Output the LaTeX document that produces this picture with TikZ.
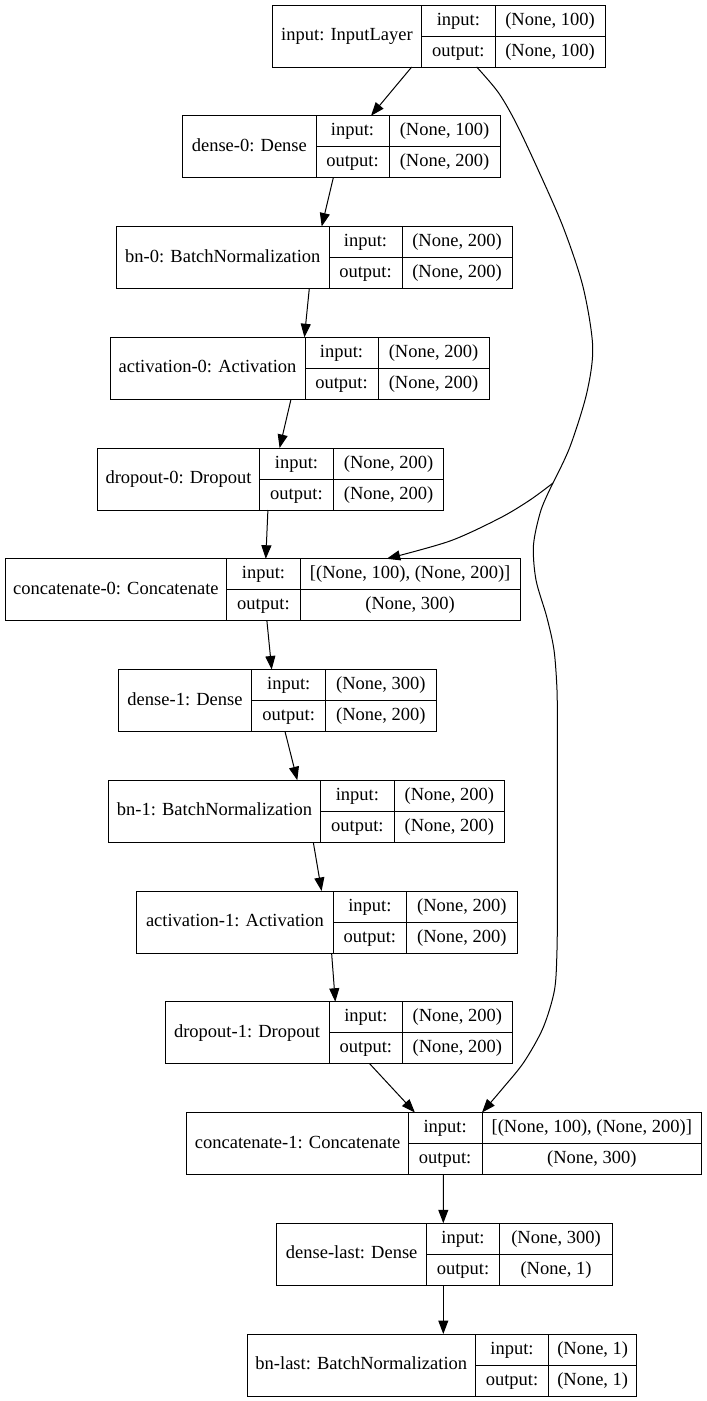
\documentclass[tikz,border=0pt]{standalone}
\usepackage{fontspec}
\setmainfont{Liberation Serif}
\usetikzlibrary{arrows.meta}

\tikzset{
  box/.style={draw, line width=1pt, inner sep=0pt, outer sep=0pt,
    minimum height=62pt, anchor=north west},
  rule/.style={line width=1pt},
  cell/.style={inner sep=0pt, text height=9pt, text depth=0pt,
    font=\fontsize{18.5pt}{20pt}\selectfont},
  link/.style={line width=1pt},
  arr/.style={link, -{Triangle[length=13.5pt,width=10pt]}},
}

% #1 name, #2 top, #3 left, #4 first divider, #5 second divider, #6 right,
% #7 layer title, #8 input shape, #9 output shape
\newcommand{\layer}[9]{%
  \node[box, minimum width={(#6-#3)*1pt}] (#1) at (#3,#2) {};
  \draw[rule] (#4,#2) -- (#4,#2+62) (#5,#2) -- (#5,#2+62)
              (#4,#2+31) -- (#6,#2+31);
  \node[cell] (#1-t)  at ({(#3+#4)/2},#2+31)   {#7};
  \node[cell] (#1-ik) at ({(#4+#5)/2},#2+15.5) {input:};
  \node[cell] (#1-ok) at ({(#4+#5)/2},#2+46.5) {output:};
  \node[cell] (#1-iv) at ({(#5+#6)/2},#2+15.5) {#8};
  \node[cell] (#1-ov) at ({(#5+#6)/2},#2+46.5) {#9};
}

\begin{document}
\begin{tikzpicture}[x=1pt, y=-1pt]
\useasboundingbox (0,0) rectangle (707,1401);

\layer{inp}{5}{272.3}{421.7}{495}{605}{input: InputLayer}{(None, 100)}{(None, 100)}
\layer{d0}{115.75}{182.7}{316}{389}{500}{dense-0: Dense}{(None, 100)}{(None, 200)}
\layer{bn0}{226.5}{116.7}{329}{402}{512}{bn-0: BatchNormalization}{(None, 200)}{(None, 200)}
\layer{a0}{337.25}{110}{305}{378}{489}{activation-0: Activation}{(None, 200)}{(None, 200)}
\layer{dr0}{448}{97.5}{259.6}{333.3}{443.9}{dropout-0: Dropout}{(None, 200)}{(None, 200)}
\layer{c0}{558.75}{5.2}{226.6}{300.3}{520}{concatenate-0: Concatenate}{[(None, 100), (None, 200)]}{(None, 300)}
\layer{d1}{669.5}{118.3}{251.7}{325.7}{436}{dense-1: Dense}{(None, 300)}{(None, 200)}
\layer{bn1}{780.25}{108.3}{320.7}{394}{504.7}{bn-1: BatchNormalization}{(None, 200)}{(None, 200)}
\layer{a1}{891}{136.7}{333.1}{406.7}{517}{activation-1: Activation}{(None, 200)}{(None, 200)}
\layer{dr1}{1001.75}{165.1}{329}{402.7}{512}{dropout-1: Dropout}{(None, 200)}{(None, 200)}
\layer{c1}{1112.5}{186.9}{408.3}{482}{701.7}{concatenate-1: Concatenate}{[(None, 100), (None, 200)]}{(None, 300)}
\layer{dl}{1223.25}{276.7}{426.7}{499.3}{612.7}{dense-last: Dense}{(None, 300)}{(None, 1)}
\layer{bnl}{1334}{247.3}{475.3}{548.7}{636.7}{bn-last: BatchNormalization}{(None, 1)}{(None, 1)}

% main chain
\draw[arr] ([xshift=139.4pt]inp.south west) -- ([xshift=188.3pt]d0.north west);
\draw[arr] ([xshift=150.6pt]d0.south west)  -- ([xshift=205pt]bn0.north west);
\draw[arr] ([xshift=192.6pt]bn0.south west) -- ([xshift=194.4pt]a0.north west);
\draw[arr] ([xshift=181pt]a0.south west)    -- ([xshift=182.1pt]dr0.north west);
\draw[arr] ([xshift=170.4pt]dr0.south west) -- ([xshift=260.6pt]c0.north west);
\draw[arr] ([xshift=261.7pt]c0.south west)  -- ([xshift=153.4pt]d1.north west);
\draw[arr] ([xshift=166.7pt]d1.south west)  -- ([xshift=189pt]bn1.north west);
\draw[arr] ([xshift=205pt]bn1.south west)   -- ([xshift=184.9pt]a1.north west);
\draw[arr] ([xshift=194.9pt]a1.south west)  -- ([xshift=170.2pt]dr1.north west);
\draw[arr] ([xshift=204.6pt]dr1.south west) -- ([xshift=228pt]c1.north west);
\draw[arr] ([xshift=256.4pt]c1.south west)  -- ([xshift=166.6pt]dl.north west);
\draw[arr] ([xshift=166.6pt]dl.south west)  -- ([xshift=196pt]bnl.north west);

% skip connections from the input layer: shared trunk, then two branches
\coordinate (t1) at (498,92);
\coordinate (t2) at (515,121);
\coordinate (t3) at (536.7,166.7);
\coordinate (t4) at (563,226.7);
\coordinate (t5) at (583,286.7);
\coordinate (t6) at (592.7,346.7);
\coordinate (t7) at (586.7,393.3);
\coordinate (t8) at (570,446.7);
\coordinate (jn) at (553,483);
\coordinate (l1) at (530,500);
\coordinate (l2) at (500,518);
\coordinate (l3) at (450,541);
\coordinate (r1) at (541,510);
\coordinate (r2) at (533.5,545);
\coordinate (r3) at (536,580);
\coordinate (r4) at (546.7,616.7);
\coordinate (r5) at (554,650);
\coordinate (r6) at (557,690);
\coordinate (r7) at (557.3,730);
\coordinate (r8) at (557.3,775);
\coordinate (r9) at (557.3,820);
\coordinate (r10) at (557.3,865);
\coordinate (r11) at (557.3,910);
\coordinate (r12) at (557,950);
\coordinate (r13) at (554.5,990);
\coordinate (r14) at (543,1028);
\coordinate (r15) at (524,1062);
\coordinate (r16) at (503,1088);

\draw[link] plot[smooth, tension=0.5] coordinates {([xshift=204.4pt]inp.south west)
  (t1) (t2) (t3) (t4) (t5) (t6) (t7) (t8) (jn)};
\draw[arr] plot[smooth, tension=0.5] coordinates {(jn) (l1) (l2) (l3)
  ([xshift=381.5pt]c0.north west)};
\draw[arr] plot[smooth, tension=0.5] coordinates {(jn) (r1) (r2) (r3) (r4) (r5) (r6)
  (r7) (r8) (r9) (r10) (r11) (r12) (r13) (r14) (r15) (r16) ([xshift=295.1pt]c1.north west)};
\end{tikzpicture}
\end{document}
